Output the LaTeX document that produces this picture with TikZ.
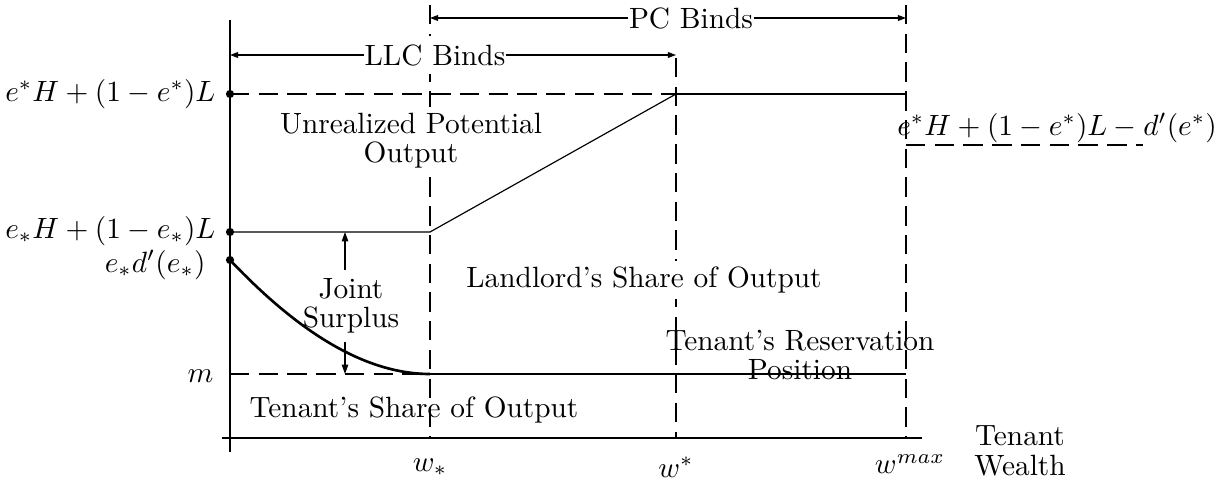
\documentclass[tikz,border=0pt]{standalone}
\usetikzlibrary{arrows.meta}
\begin{document}
\begin{tikzpicture}[x=0.341pt,y=-0.341pt,
  font=\fontsize{10}{10}\selectfont,
  thinline/.style={line width=0.4pt},
  dashline/.style={line width=0.4pt,dash pattern=on 6.6pt off 3.2pt},
  arr/.style={line width=0.4pt,-{Triangle[length=2.8pt,width=2pt]}},
  lbl/.style={inner sep=0pt},
  boxlbl/.style={inner xsep=0pt,inner ysep=3pt,fill=white},
  area/.style={align=center,inner sep=2pt,fill=white},
  dot/.style={circle,fill=black,inner sep=0pt,minimum size=2.8pt}]
\useasboundingbox (0,0) rectangle (1220,482);

% key points on the axes
\coordinate (O) at (230,438);
\coordinate (A) at (230,94);
\coordinate (B) at (230,232);
\coordinate (C) at (230,260);
\coordinate (M) at (230,374);
\coordinate (Ws) at (430,438);
\coordinate (Wt) at (676,438);
\coordinate (Wm) at (906,438);
\coordinate (Bk) at (430,232);
\coordinate (Ak) at (676,94);
\coordinate (Mk) at (430,374);
\coordinate (Ae) at (906,94);
\coordinate (Me) at (906,374);

% axes
\draw[thinline] (230,20) -- (230,452);
\draw[thinline] (222,438) -- (922,438);

% vertical guides at the wealth thresholds
\draw[dashline] (430,5) -- (Ws);
\draw[dashline] (676,58) -- (Wt);
\draw[dashline] (906,5) -- (Wm);

% output levels
\draw[dashline] (A) -- (Ak);
\draw[thinline] (Ak) -- (Ae);
\draw[dashline] (M) -- (Mk);
\draw[thinline] (Mk) -- (Me);

% right-hand level
\draw[dashline] (906,145) -- (1143,145);
\node[lbl] (rlab) at (1057,128) {$e^*H+(1-e^*)L-d'(e^*)$};

% region labels
\node[area] (unr) at (411,141) {Unrealized Potential\\Output};
\node[area] (land) at (644,280) {Landlord's Share of Output};
\node[lbl] (tshare) at (414,410) {Tenant's Share of Output};
\node[lbl,align=center] (tres) at (800,355) {Tenant's Reservation\\Position};

% realized output under the LLC
\draw[thinline] (B) -- (Bk) -- (Ak);

% binding-constraint ranges
\node[boxlbl] (pc) at (691,18) {PC Binds};
\coordinate (pcL) at (430,18);
\coordinate (pcR) at (906,18);
\draw[arr] (pc.west) -- (pcL);
\draw[arr] (pc.east) -- (pcR);
\node[boxlbl] (llc) at (435,55) {LLC Binds};
\coordinate (llcL) at (230,55);
\coordinate (llcR) at (676,55);
\draw[arr] (llc.west) -- (llcL);
\draw[arr] (llc.east) -- (llcR);

% joint surplus
\coordinate (jt) at (345,232);
\coordinate (jb) at (345,374);
\node[align=center,inner sep=0pt,outer sep=3pt,fill=white] (js) at (351,306) {Joint\\Surplus};
\draw[arr,-{Triangle[length=3.2pt,width=2.2pt]}] (js.north -| jt) -- (jt);
\draw[arr,-{Triangle[length=3.2pt,width=2.2pt]}] (js.south -| jb) -- (jb);

% tenant outside option curve
\draw[line width=0.9pt] (C) .. controls (285,318) and (355,374) .. (Mk);

% axis markers
\node[dot] (dA) at (A) {};
\node[dot] (dB) at (B) {};
\node[dot] (dC) at (C) {};

% vertical axis labels
\node[lbl,anchor=east] (lA) at (216,94) {$e^*H+(1-e^*)L$};
\node[lbl,anchor=east] (lB) at (216,231) {$e_*H+(1-e_*)L$};
\node[lbl,anchor=east] (lC) at (206,265) {$e_*d'(e_*)$};
\node[lbl,anchor=east] (lM) at (214,376) {$m$};

% horizontal axis labels
\node[lbl] (xs) at (430,467) {$w_*$};
\node[lbl] (xt) at (676,467) {$w^*$};
\node[lbl] (xm) at (910,464) {$w^{max}$};
\node[lbl,align=center] (xl) at (1020,451) {Tenant\\Wealth};
\end{tikzpicture}
\end{document}
